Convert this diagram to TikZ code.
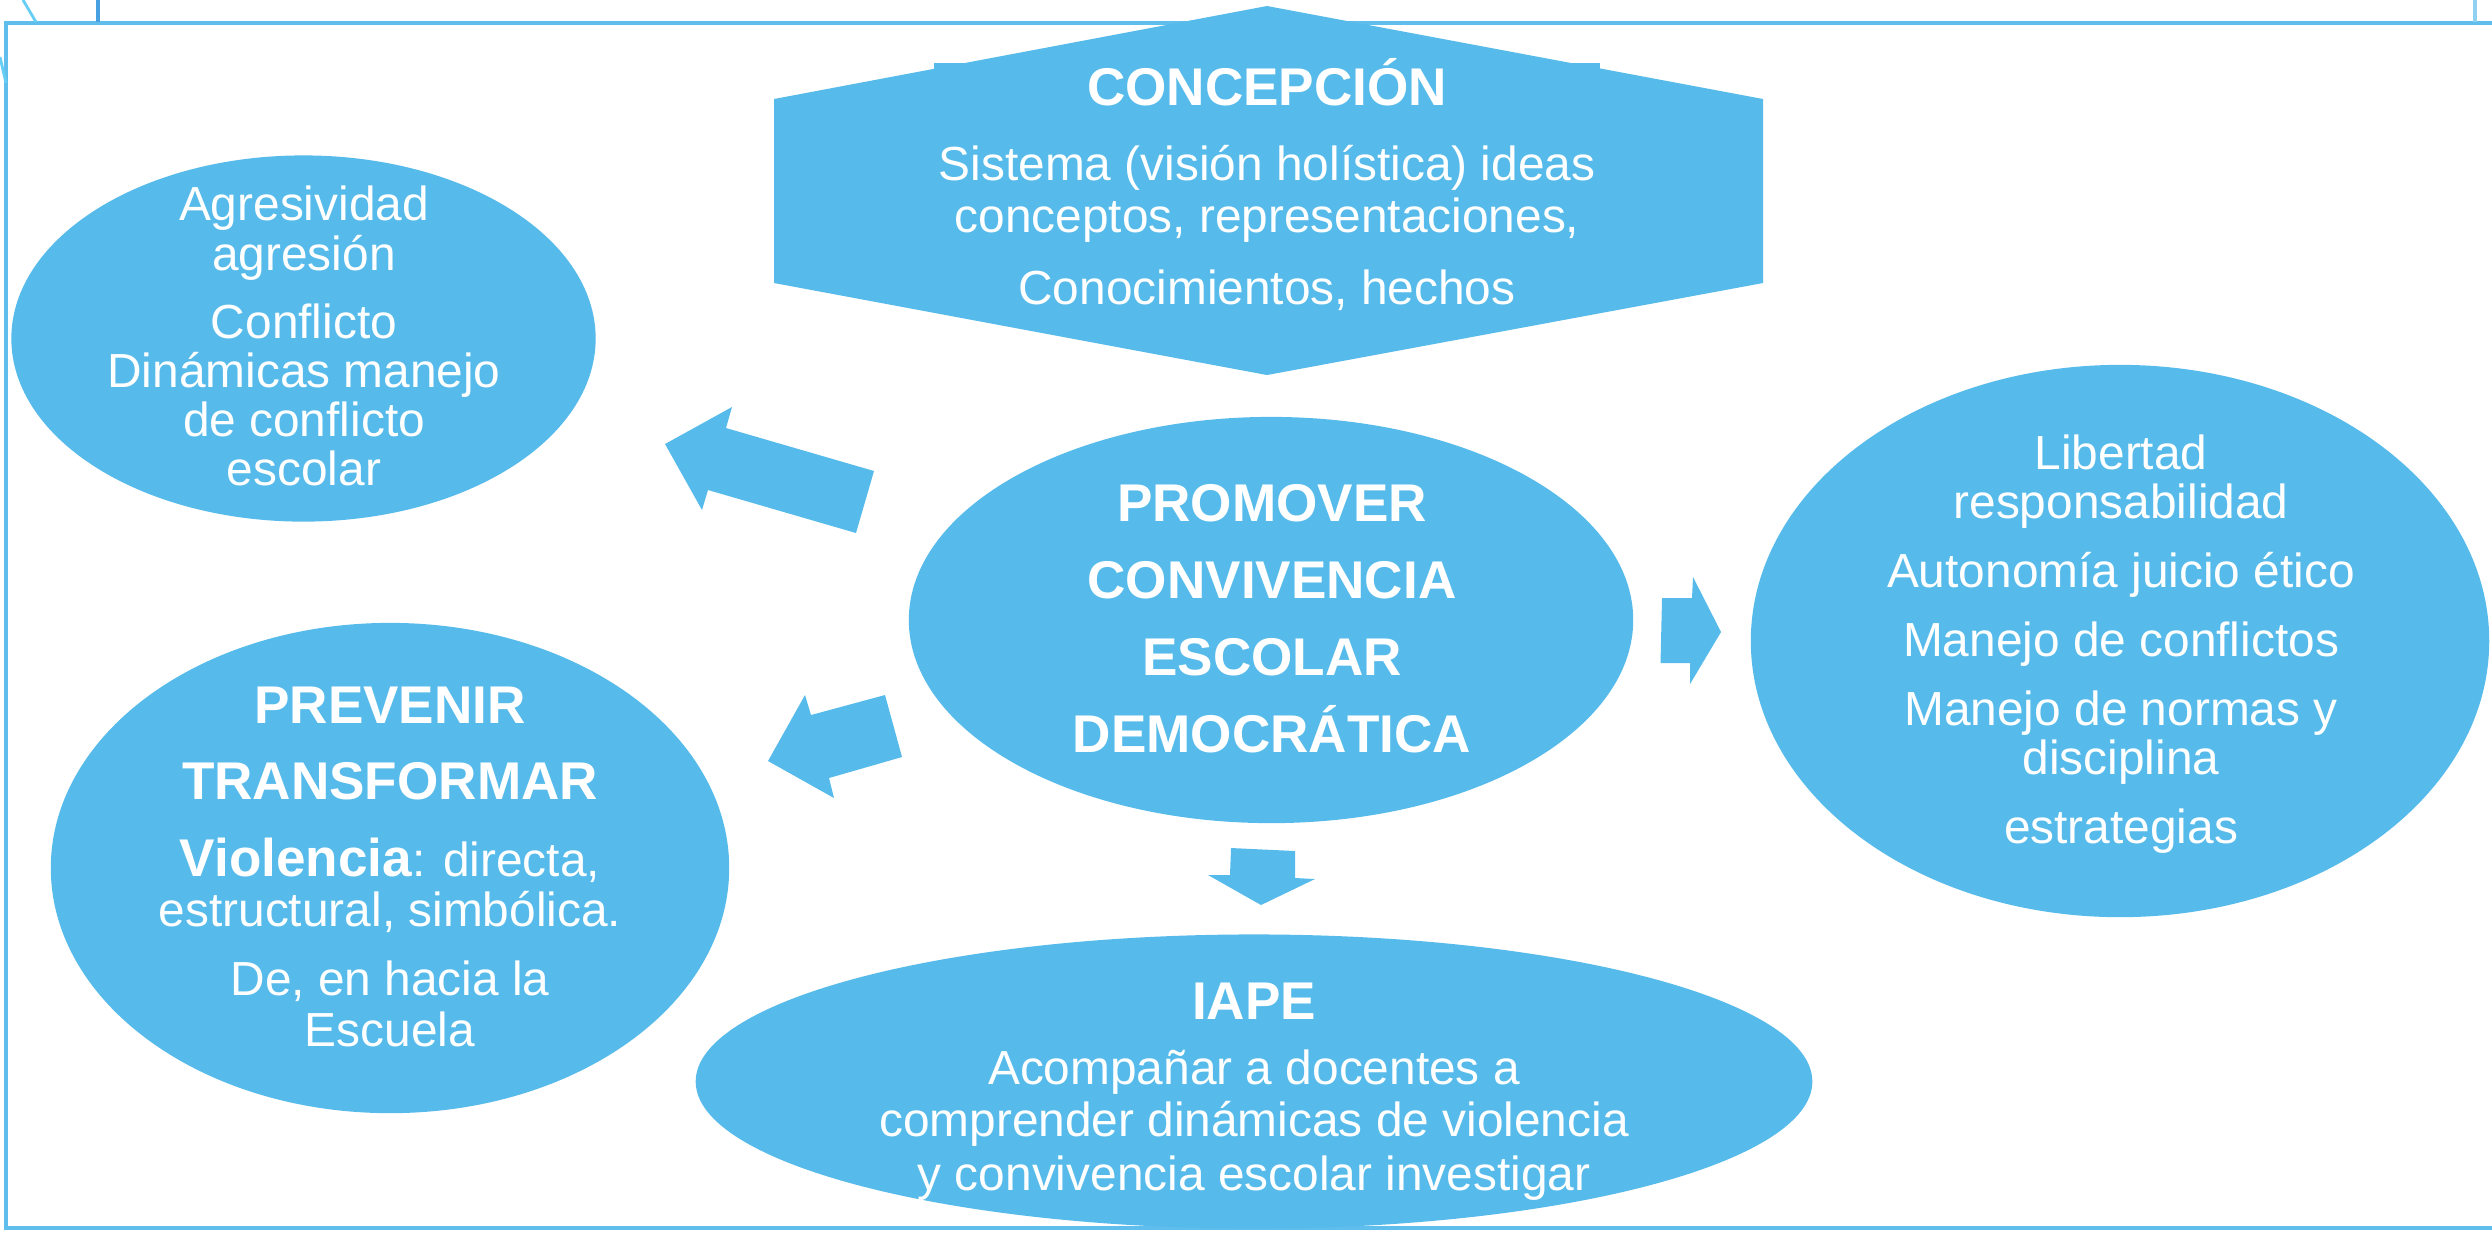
\documentclass[tikz,border=0pt]{standalone}
\usepackage{fontspec}
\setmainfont{Liberation Sans}
\usetikzlibrary{shapes.geometric}
\definecolor{bluefill}{RGB}{86,187,234}
\definecolor{frameblue}{RGB}{96,190,236}
\definecolor{darkbar}{RGB}{70,160,225}
\begin{document}
\begin{tikzpicture}[x=0.01cm,y=-0.01cm,
 shapefill/.style={fill=bluefill,draw=none},
 ell/.style={shapefill,ellipse,inner sep=0pt},
 tx/.style={text=white,anchor=base,inner sep=0pt,font=\fontsize{13.6}{16}\selectfont},
 bt/.style={text=white,anchor=base,inner sep=0pt,font=\fontsize{15.1}{18}\selectfont\bfseries},
 frame/.style={draw=frameblue,line width=0.9pt},
]
\useasboundingbox (0,0) rectangle (2492,1232);
% frame and stray marks
\draw[frame] (2492,23) -- (6,23) -- (6,1228) -- (2492,1228);
\draw[draw=darkbar,line width=1.2pt] (98,0) -- (98,22);
\draw[draw=frameblue!70,line width=1.2pt] (2475,0) -- (2475,22);
\draw[draw=cyan!60,line width=0.8pt] (23,0) -- (36,22);
\draw[draw=cyan!60,line width=0.8pt] (0,57) -- (6,83);

% hexagon
\coordinate (hT) at (1267,6);
\coordinate (hUL) at (774,99);
\coordinate (hLL) at (774,283);
\coordinate (hB) at (1267,375);
\coordinate (hLR) at (1763,283);
\coordinate (hUR) at (1763,99);
\fill[bluefill] (934,63) rectangle (969,90);
\fill[bluefill] (1568,63) rectangle (1600,90);
\fill[bluefill] (hT) -- (hUL) -- (hLL) -- (hB) -- (hLR) -- (hUR) -- cycle;

% ellipses
\node[ell,minimum width=5.84cm,minimum height=3.66cm] (tl) at (303.5,338.5) {};
\node[ell,minimum width=7.24cm,minimum height=4.06cm] (ctr) at (1271,620) {};
\node[ell,minimum width=6.78cm,minimum height=4.90cm] (bl) at (390,868) {};
\node[ell,minimum width=7.38cm,minimum height=5.52cm] (rt) at (2120,641) {};
\node[ell,minimum width=11.16cm,minimum height=2.94cm] (bt) at (1254,1081.5) {};

% block arrows
\fill[bluefill] (665,444) -- (732,407) -- (726,428) -- (874,471) -- (856,533) -- (708,490) -- (702,510) -- cycle;
\fill[bluefill] (768,761) -- (805,695) -- (811,715) -- (885,695) -- (902,757) -- (829,778) -- (834,798) -- cycle;
\fill[bluefill] (1721,632) -- (1693,577) -- (1692,598) -- (1662,598) -- (1660.5,663) -- (1690,663) -- (1690,684) -- cycle;
\fill[bluefill] (1231,848) -- (1295,851) -- (1295,878) -- (1315,879) -- (1261,905) -- (1208,875) -- (1230,875) -- cycle;

% hexagon text
\node[bt] (h1) at (1267,105) {CONCEPCIÓN};
\node[tx] (h2) at (1267,180) {Sistema (visión holística) ideas};
\node[tx] (h3) at (1267,232) {conceptos, representaciones,};
\node[tx] (h4) at (1267,304) {Conocimientos, hechos};

% top-left text
\node[tx] (a1) at (304,220) {Agresividad};
\node[tx] (a2) at (304,270) {agresión};
\node[tx] (a3) at (304,338) {Conflicto};
\node[tx] (a4) at (304,387) {Dinámicas manejo};
\node[tx] (a5) at (304,436) {de conflicto};
\node[tx] (a6) at (304,485) {escolar};

% center text
\node[bt] (c1) at (1272,521) {PROMOVER};
\node[bt] (c2) at (1272,598) {CONVIVENCIA};
\node[bt] (c3) at (1272,675) {ESCOLAR};
\node[bt] (c4) at (1272,752) {DEMOCRÁTICA};

% bottom-left text
\node[bt] (p1) at (390,723) {PREVENIR};
\node[bt] (p2) at (390,799) {TRANSFORMAR};
\node[tx] (p3) at (390,876) {{\fontsize{15.1}{18}\selectfont\bfseries Violencia}: directa,};
\node[tx] (p4) at (390,926) {estructural, simbólica.};
\node[tx] (p5) at (390,995) {De, en hacia la};
\node[tx] (p6) at (390,1046) {Escuela};

% right text
\node[tx] (r1) at (2121,469) {Libertad};
\node[tx] (r2) at (2121,518) {responsabilidad};
\node[tx] (r3) at (2121,587) {Autonomía juicio ético};
\node[tx] (r4) at (2121,656) {Manejo de conflictos};
\node[tx] (r5) at (2121,725) {Manejo de normas y};
\node[tx] (r6) at (2121,774) {disciplina};
\node[tx] (r7) at (2121,843) {estrategias};

% bottom text
\node[bt] (i1) at (1254,1019) {IAPE};
\node[tx] (i2) at (1254,1084) {Acompañar a docentes a};
\node[tx] (i3) at (1254,1136) {comprender dinámicas de violencia};
\node[tx] (i4) at (1254,1190) {y convivencia escolar investigar};
\end{tikzpicture}
\end{document}
